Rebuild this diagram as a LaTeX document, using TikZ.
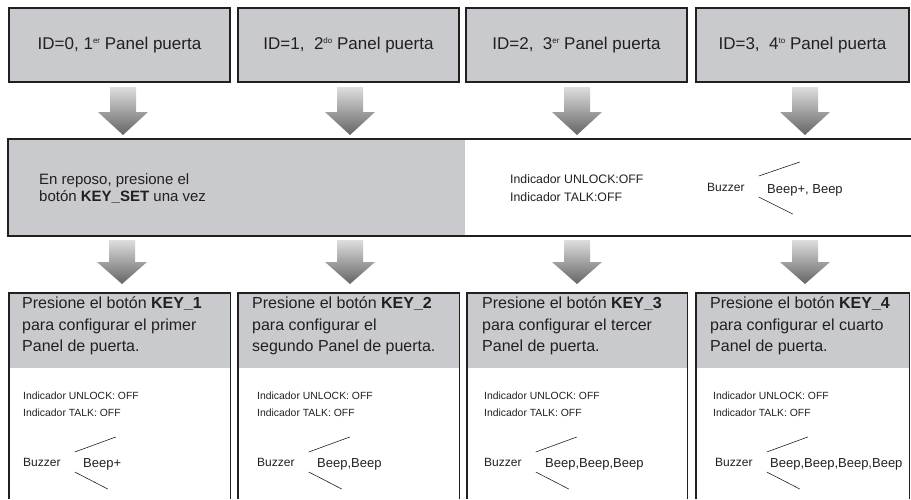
\documentclass[tikz,border=0pt]{standalone}
\usepackage{fontspec}
\setmainfont{Liberation Sans}
\usetikzlibrary{positioning}
\definecolor{panelgray}{RGB}{200,202,205}
\definecolor{inkgray}{RGB}{35,31,32}
\definecolor{arrowlight}{RGB}{222,222,222}
\definecolor{arrowdark}{RGB}{100,100,100}
\newcommand{\ordsup}[1]{\raisebox{5.5pt}{\fontsize{8}{8}\selectfont #1}}

\begin{document}
\begin{tikzpicture}[x=1pt, y=-1pt, text=inkgray,
  idbox/.style={draw=inkgray, line width=2pt, fill=panelgray, minimum height=74pt, inner sep=0pt, font=\fontsize{17}{19}\selectfont},
  panelline/.style={draw=inkgray, line width=1.5pt},
  flecha/.style={top color=arrowlight, bottom color=arrowdark},
  midtext/.style={anchor=west, align=left, inner sep=0pt, font=\fontsize{15}{17}\selectfont},
  keytext/.style={anchor=west, align=left, inner sep=0pt, font=\fontsize{16}{21.5}\selectfont},
  ledtext/.style={anchor=west, align=left, inner sep=0pt, font=\fontsize{10.4}{17}\selectfont},
  bzrtext/.style={anchor=west, inner sep=0pt, font=\fontsize{12}{14}\selectfont},
  beeptext/.style={anchor=west, inner sep=0pt, font=\fontsize{13}{15}\selectfont},
  fork/.style={draw=inkgray, line width=0.6pt}]
\useasboundingbox (0,0) rectangle (911,499);

% paneles de puerta
\node[idbox, minimum width=221pt] (id0) at (119.5,45) {ID=0, 1\ordsup{er} Panel puerta};
\node[idbox, minimum width=221pt] (id1) at (348.5,45) {ID=1,\ \ 2\ordsup{do} Panel puerta};
\node[idbox, minimum width=221pt] (id2) at (576.5,45) {ID=2,\ \ 3\ordsup{er} Panel puerta};
\node[idbox, minimum width=213pt] (id3) at (802.5,45) {ID=3,\ \ 4\ordsup{to} Panel puerta};

\shade[flecha] (110,87) -- (136,87) -- (136,112) -- (148,112) -- (123,135) -- (98,112) -- (110,112) -- cycle;
\shade[flecha] (337,87) -- (363,87) -- (363,112) -- (375,112) -- (350,135) -- (325,112) -- (337,112) -- cycle;
\shade[flecha] (564,87) -- (590,87) -- (590,112) -- (602,112) -- (577,135) -- (552,112) -- (564,112) -- cycle;
\shade[flecha] (792,87) -- (818,87) -- (818,112) -- (830,112) -- (805,135) -- (780,112) -- (792,112) -- cycle;

% reposo
\fill[panelgray] (8,139) rectangle (465,236);
\draw[draw=inkgray, line width=2pt] (911,139) -- (8,139) -- (8,236) -- (911,236);
\node[midtext] (reposo) at (39,188) {En reposo, presione el\\botón \textbf{KEY\_SET} una vez};
\node[midtext, font=\fontsize{12.3}{18}\selectfont] (ind0) at (510,188) {Indicador UNLOCK:OFF\\Indicador TALK:OFF};
\node[bzrtext] (bzr0) at (707,187) {Buzzer};
\node[beeptext] (beep0) at (767,190) {Beep+, Beep};
\draw[fork] ([shift={(14,-11)}]bzr0.east) -- ++(41,-14);
\draw[fork] ([shift={(14,10)}]bzr0.east) -- ++(34,17);

\shade[flecha] (109,240) -- (135,240) -- (135,262) -- (147,262) -- (122,284) -- (97,262) -- (109,262) -- cycle;
\shade[flecha] (337,240) -- (363,240) -- (363,262) -- (375,262) -- (350,284) -- (325,262) -- (337,262) -- cycle;
\shade[flecha] (564,240) -- (590,240) -- (590,262) -- (602,262) -- (577,284) -- (552,262) -- (564,262) -- cycle;
\shade[flecha] (792,240) -- (818,240) -- (818,262) -- (830,262) -- (805,284) -- (780,262) -- (792,262) -- cycle;

% teclas
\fill[panelgray] (8,292) rectangle (231,368);
\fill[panelgray] (237,292) rectangle (460,368);
\fill[panelgray] (466,292) rectangle (688,368);
\fill[panelgray] (695,292) rectangle (910,368);
\draw[panelline] (8.75,499) |- (230.25,292.75) -- (230.25,499);
\draw[panelline] (237.75,499) |- (459.25,292.75) -- (459.25,499);
\draw[panelline] (466.75,499) |- (687.25,292.75) -- (687.25,499);
\draw[panelline] (695.75,499) |- (909.25,292.75) -- (909.25,499);

\node[keytext] (key1) at (22,326) {Presione el botón \textbf{KEY\_1}\\para configurar el primer\\Panel de puerta.};
\node[keytext] (key2) at (252,326) {Presione el botón \textbf{KEY\_2}\\para configurar el\\segundo Panel de puerta.};
\node[keytext] (key3) at (482,326) {Presione el botón \textbf{KEY\_3}\\para configurar el tercer\\Panel de puerta.};
\node[keytext] (key4) at (710,326) {Presione el botón \textbf{KEY\_4}\\para configurar el cuarto\\Panel de puerta.};

\node[ledtext] (ind1) at (23,404.5) {Indicador UNLOCK: OFF\\Indicador TALK: OFF};
\node[ledtext] (ind2) at (257,404.5) {Indicador UNLOCK: OFF\\Indicador TALK: OFF};
\node[ledtext] (ind3) at (484,404.5) {Indicador UNLOCK: OFF\\Indicador TALK: OFF};
\node[ledtext] (ind4) at (713,404.5) {Indicador UNLOCK: OFF\\Indicador TALK: OFF};

\node[bzrtext] (bzr1) at (23,462) {Buzzer};
\node[beeptext] (beep1) at (83,464) {Beep+};
\draw[fork] ([shift={(14,-10)}]bzr1.east) -- ++(41,-15);
\draw[fork] ([shift={(14,10)}]bzr1.east) -- ++(33,17);

\node[bzrtext] (bzr2) at (257,462) {Buzzer};
\node[beeptext] (beep2) at (317,464) {Beep,Beep};
\draw[fork] ([shift={(14,-10)}]bzr2.east) -- ++(41,-15);
\draw[fork] ([shift={(14,10)}]bzr2.east) -- ++(33,17);

\node[bzrtext] (bzr3) at (484,462) {Buzzer};
\node[beeptext] (beep3) at (545,464) {Beep,Beep,Beep};
\draw[fork] ([shift={(14,-10)}]bzr3.east) -- ++(41,-15);
\draw[fork] ([shift={(14,10)}]bzr3.east) -- ++(33,17);

\node[bzrtext] (bzr4) at (715,462) {Buzzer};
\node[beeptext] (beep4) at (770,464) {Beep,Beep,Beep,Beep};
\draw[fork] ([shift={(14,-10)}]bzr4.east) -- ++(41,-15);
\draw[fork] ([shift={(14,10)}]bzr4.east) -- ++(33,17);

\end{tikzpicture}
\end{document}
